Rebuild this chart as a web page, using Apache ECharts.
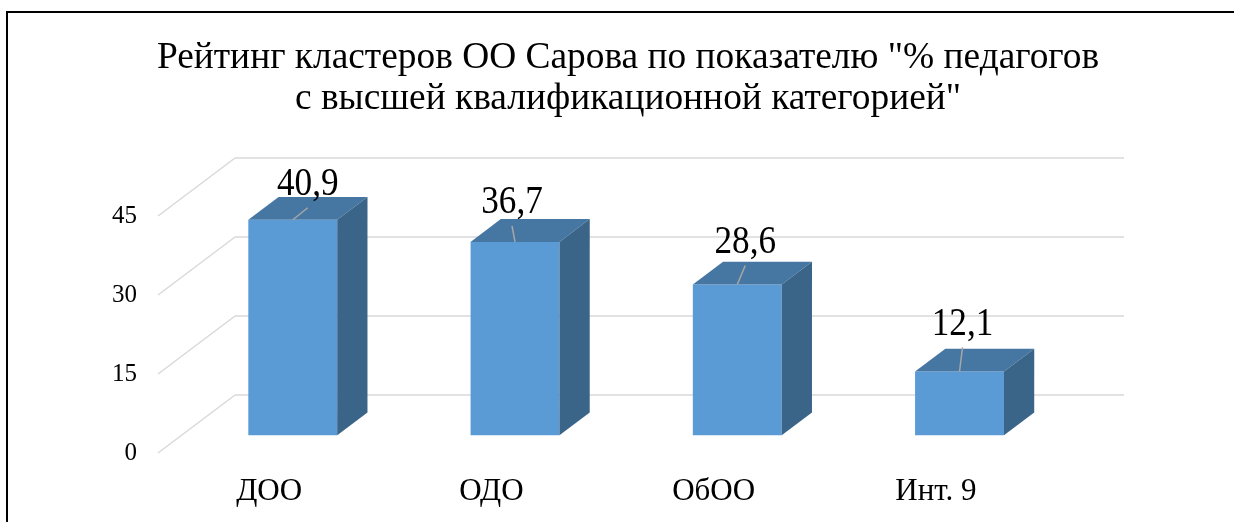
<!DOCTYPE html>
<html>
<head>
<meta charset="utf-8">
<script src="https://cdn.jsdelivr.net/npm/echarts@6/dist/echarts.min.js"></script>
<style>
  html, body { margin: 0; padding: 0; background: #fff; }
  #chart { width: 1234px; height: 522px; }
</style>
</head>
<body>
<div id="chart"></div>
<script>
// Chart data
const categories = ['ДОО', 'ОДО', 'ОбОО', 'Инт. 9'];
const values = [40.9, 36.7, 28.6, 12.1];
const yTicks = [0, 15, 30, 45];
const valueLabels = ['40,9', '36,7', '28,6', '12,1'];

// Layout: 3D depth vector (front plane -> back wall) and bar placement
const depth = { x: 77, y: -58 };
const barFront = 0.307;   // bar front face, fraction of depth
const barBack = 0.70;     // bar back face, fraction of depth
const barRatio = 0.4;     // bar width, fraction of category band
// label nudges (px) from bar top centre, moved by hand in the original
const labelNudge = [[15, -12], [-3, -16], [8, -19], [3, -24]];

const FONT = '"Liberation Serif", "Times New Roman", serif';

const chart = echarts.init(document.getElementById('chart'));

// Back wall gridlines + receding floor lines
function renderWalls(params, api) {
    const cs = params.coordSys;
    const p = api.coord([0, api.value(0)]);
    const y = p[1];
    const x0 = cs.x;
    const x1 = cs.x + cs.width;
    const style = { stroke: '#D9D9D9', lineWidth: 1.5, fill: null };
    return {
        type: 'group',
        children: [
            { type: 'line', shape: { x1: x0, y1: y, x2: x0 + depth.x, y2: y + depth.y }, style: style },
            { type: 'line', shape: { x1: x0 + depth.x, y1: y + depth.y, x2: x1 + depth.x, y2: y + depth.y }, style: style }
        ]
    };
}

// 3D box bars
function renderBars(params, api) {
    const idx = api.value(0);
    const base = api.coord([idx, 0]);
    const top = api.coord([idx, api.value(1)]);
    const w = api.size([1, 0])[0] * barRatio;
    const fx = depth.x * barFront, fy = depth.y * barFront;
    const bx = depth.x * (barBack - barFront), by = depth.y * (barBack - barFront);
    const l = base[0] + fx - w / 2;
    const r = base[0] + fx + w / 2;
    const yt = top[1] + fy;
    const yb = base[1] + fy;
    return {
        type: 'group',
        children: [
            { type: 'rect', shape: { x: l, y: yt, width: w, height: yb - yt },
              style: { fill: '#5B9BD5' } },
            { type: 'polygon', shape: { points: [[l, yt], [r, yt], [r + bx, yt + by], [l + bx, yt + by]] },
              style: { fill: '#4677A3' } },
            { type: 'polygon', shape: { points: [[r, yt], [r + bx, yt + by], [r + bx, yb + by], [r, yb]] },
              style: { fill: '#3A6488' } }
        ]
    };
}

// Data labels with leader lines
function renderLabels(params, api) {
    const i = params.dataIndex;
    const top = api.coord([api.value(0), api.value(1)]);
    const cx = top[0] + depth.x * barFront;
    const cy = top[1] + depth.y * barFront;
    const ex = cx + labelNudge[i][0];
    const ey = cy + labelNudge[i][1];
    return {
        type: 'group',
        children: [
            { type: 'line', shape: { x1: cx, y1: cy, x2: ex, y2: ey },
              style: { stroke: '#A6A6A6', lineWidth: 1.5 } },
            { type: 'text', x: ex, y: ey - 3, scaleX: 0.88,
              style: { text: valueLabels[i], x: 0, y: 0, align: 'center', verticalAlign: 'bottom',
                       font: '40px ' + FONT, fill: '#000' } }
        ]
    };
}

const option = {
    backgroundColor: '#fff',
    animation: false,
    title: {
        text: 'Рейтинг кластеров ОО Сарова по показателю "% педагогов\nс высшей квалификационной категорией"',
        left: 623,
        top: 33,
        textAlign: 'center',
        textStyle: { fontFamily: FONT, fontSize: 37.4, fontWeight: 'normal', color: '#000', lineHeight: 41 }
    },
    graphic: [{
        type: 'rect',
        shape: { x: 7, y: 12, width: 1240, height: 530 },
        style: { fill: null, stroke: '#000', lineWidth: 2 }
    }],
    grid: { left: 158, right: 187, top: 216, bottom: 69 },
    xAxis: {
        type: 'category',
        data: categories,
        axisLine: { show: false },
        axisTick: { show: false },
        axisLabel: { fontFamily: FONT, fontSize: 31, color: '#000', margin: 23 }
    },
    yAxis: {
        type: 'value',
        min: 0,
        max: 45,
        interval: 15,
        axisLine: { show: false },
        axisTick: { show: false },
        splitLine: { show: false },
        axisLabel: { fontFamily: FONT, fontSize: 25, color: '#000', margin: 21 }
    },
    series: [
        {
            type: 'custom',
            renderItem: renderWalls,
            data: yTicks.map(v => [v]),
            encode: { y: 0 },
            silent: true,
            z: 1
        },
        {
            type: 'custom',
            renderItem: renderBars,
            data: values.map((v, i) => [i, v]),
            encode: { x: 0, y: 1 },
            z: 2
        },
        {
            type: 'custom',
            renderItem: renderLabels,
            data: values.map((v, i) => [i, v]),
            encode: { x: 0, y: 1 },
            z: 3
        }
    ]
};

chart.setOption(option);
</script>
</body>
</html>
